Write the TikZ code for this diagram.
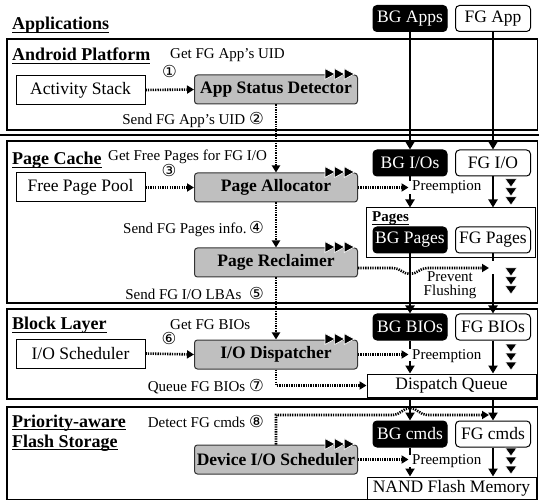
\documentclass[tikz,border=0pt]{standalone}
\usepackage{fontspec}
\setmainfont{Liberation Serif}
\newfontfamily\circfont{DejaVu Sans}
\usetikzlibrary{arrows.meta}
\newcommand\myul[1]{\setbox0=\hbox{#1}\rlap{\rule[-3.2pt]{\wd0}{1.3pt}}\box0}
\newcommand\cn[1]{{\circfont\fontsize{16.5}{17}\selectfont #1}}
\begin{document}
\begin{tikzpicture}[x=1pt,y=-1pt,
  sect/.style={draw=black,line width=1.2pt},
  title/.style={anchor=base west,font=\bfseries\fontsize{18}{20}\selectfont,inner sep=0pt},
  lbl/.style={font=\fontsize{15}{17}\selectfont,inner sep=0pt},
  wbox/.style={draw=black,line width=1pt,fill=white,font=\fontsize{17.5}{20}\selectfont,inner sep=0pt,minimum width=129pt,minimum height=29pt},
  gbox/.style={draw=black!80,fill=black!25,rounded corners=3pt,line width=1pt,font=\bfseries\fontsize{17.5}{20}\selectfont,inner sep=0pt,minimum width=163pt,minimum height=29pt},
  bgbox/.style={draw=black,fill=black,text=white,rounded corners=4pt,line width=1pt,font=\fontsize{17.5}{20}\selectfont,inner sep=0pt,minimum width=74pt,minimum height=26pt},
  fgbox/.style={draw=black,fill=white,rounded corners=4pt,line width=1pt,font=\fontsize{17.5}{20}\selectfont,inner sep=0pt,minimum width=75pt,minimum height=26pt},
  pbox/.style={draw=black,line width=1pt,fill=white,font=\fontsize{17.5}{20}\selectfont,inner sep=0pt,minimum width=169pt},
  solidarr/.style={line width=2.2pt,-{Triangle[length=8pt,width=9pt]}},
  dotarr/.style={line width=2.6pt,dash pattern=on 1.3pt off 1.1pt,-{Triangle[length=7pt,width=8pt]}},
  ffwd/.pic={\foreach \i in {0,9.6,19.2}{\filldraw[fill=black,draw=white,line width=0.7pt] (\i,-5.5) -- (\i+10,0) -- (\i,5.5) -- cycle;}},
  dstack/.pic={\foreach \j in {0,9,18}{\filldraw[fill=black,draw=white,line width=0.5pt] (-5.8,\j) -- (5.8,\j) -- (0,\j+8) -- cycle;}}
]
\useasboundingbox (0,0) rectangle (539,500);

% layer frames
\draw[sect] (7,39) rectangle (537.5,130);
\draw[line width=2.4pt] (0,135) -- (539,135);
\draw[sect] (7,141) rectangle (537.5,303);
\draw[sect] (7,309) rectangle (537.5,399);
\draw[sect] (7,407) rectangle (537.5,499.4);

% titles
\node[title] (tapp) at (12,30) {\myul{Applications}};
\node[title] (tand) at (12,61) {\myul{Android Platform}};
\node[title] (tpc) at (12,165) {\myul{Page Cache}};
\node[title] (tbl) at (12,330) {\myul{Block Layer}};
\node[title] (tpa) at (12,427) {\myul{Priority-aware}};
\node[title] (tfs) at (12,447) {\myul{Flash Storage}};

% left column boxes
\node[wbox] (as) at (80.5,90) {Activity Stack};
\node[wbox] (fpp) at (80.5,187.5) {Free Page Pool};
\node[wbox] (ios) at (80.5,353.5) {I/O Scheduler};

% gray boxes
\node[gbox] (asd) at (276,89.5) {App Status Detector};
\node[gbox] (pa) at (276,187.5) {Page Allocator};
\node[gbox] (pr) at (276,262.5) {Page Reclaimer};
\node[gbox] (iod) at (276,354.5) {I/O Dispatcher};
\node[gbox] (dios) at (276,459.5) {Device I/O Scheduler};
\pic at (325,74) {ffwd};
\pic at (325,172) {ffwd};
\pic at (325,247) {ffwd};
\pic at (325,339) {ffwd};
\pic at (325,444) {ffwd};

% step labels
\node[lbl,anchor=base west] (l1) at (170,59) {Get FG App’s UID};
\node[lbl] (c1) at (169.5,71) {\cn{①}};
\node[lbl,anchor=base east] (l2) at (264,125) {Send FG App’s UID \cn{②}};
\node[lbl,anchor=base west] (l3) at (108,160.5) {Get Free Pages for FG I/O};
\node[lbl] (c3) at (169,170) {\cn{③}};
\node[lbl,anchor=base east] (l4) at (264,234) {Send FG Pages info.\,\cn{④}};
\node[lbl,anchor=base east] (l5) at (264,299) {Send FG I/O LBAs \ \cn{⑤}};
\node[lbl,anchor=base west] (l6) at (170,330) {Get FG BIOs};
\node[lbl] (c6) at (169,338) {\cn{⑥}};
\node[lbl,anchor=base east] (l7) at (264,391) {Queue FG BIOs \cn{⑦}};
\node[lbl,anchor=base east] (l8) at (264,427) {Detect FG cmds \cn{⑧}};

% right column
\node[bgbox] (bgapps) at (410,18.5) {BG Apps};
\node[fgbox] (fgapp) at (493,18.5) {FG App};
\node[bgbox] (bgio) at (410,163) {BG I/Os};
\node[fgbox] (fgio) at (493,163) {FG I/O};
\node[pbox,minimum height=50pt] (pages) at (451,233) {};
\node[lbl,anchor=base west,font=\bfseries\fontsize{15}{17}\selectfont] (pgl) at (372,222) {\myul{Pages}};
\node[bgbox] (bgpg) at (410,240) {BG Pages};
\node[fgbox] (fgpg) at (493,240) {FG Pages};
\node[bgbox] (bgbio) at (410,327) {BG BIOs};
\node[fgbox] (fgbio) at (493,327) {FG BIOs};
\node[pbox,minimum height=23pt] (dq) at (451.5,385.5) {Dispatch Queue};
\node[bgbox] (bgcmd) at (410,434) {BG cmds};
\node[fgbox] (fgcmd) at (493,434) {FG cmds};
\node[pbox,minimum height=22pt] (nand) at (451.5,488) {NAND Flash Memory};

% solid data-path arrows
\draw[solidarr] (bgapps.south) -- (bgio.north);
\draw[solidarr] (fgapp.south) -- (fgio.north);
\draw[solidarr] (bgio.south) -- (bgio.south |- pages.north);
\draw[solidarr] (fgio.south) -- (fgio.south |- pages.north);
\draw[solidarr] (bgpg.south) -- (bgbio.north);
\draw[solidarr] (fgpg.south) -- (fgbio.north);
\draw[solidarr] (bgbio.south) -- (bgbio.south |- dq.north);
\draw[solidarr] (fgbio.south) -- (fgbio.south |- dq.north);
\draw[solidarr] (bgbio.south |- dq.south) -- (bgcmd.north);
\draw[solidarr] (fgbio.south |- dq.south) -- (fgcmd.north);
\draw[solidarr] (bgcmd.south) -- (bgcmd.south |- nand.north);
\draw[solidarr] (fgcmd.south) -- (fgcmd.south |- nand.north);

% blocked gaps
\fill[white] (408.5,181.5) rectangle (411.5,194);
\fill[white] (491.5,261) rectangle (494.5,274);
\fill[white] (408.5,349) rectangle (411.5,361);
\fill[white] (408.5,455) rectangle (411.5,467);

% stacked down triangles
\pic at (511,179) {dstack};
\pic at (511,268) {dstack};
\pic at (511,344) {dstack};
\pic at (511,448) {dstack};

% preemption labels
\node[lbl,anchor=west] (pe1) at (412,187.5) {Preemption};
\node[lbl,anchor=west] (pe2) at (412,356) {Preemption};
\node[lbl,anchor=west] (pe3) at (412,461) {Preemption};
\node[lbl,align=center] (pf) at (450,285) {Prevent\\[-3pt]Flushing};

% control-path dotted arrows
\draw[dotarr] (as.east) -- (asd.west);
\draw[dotarr] (fpp.east) -- (pa.west);
\draw[dotarr] (ios.east) -- (iod.west);
\draw[dotarr] (asd.south) -- (pa.north);
\draw[dotarr] (pa.south) -- (pr.north);
\draw[dotarr] (pr.south) -- (iod.north);
\draw[dotarr] (iod.south) |- (dq.west);
\draw[dotarr,shorten >=1.5pt] (pa.east) -- (pa.east -| bgio.center);
\draw[dotarr,shorten >=1.5pt] (iod.east) -- (iod.east -| bgio.center);
\draw[dotarr,shorten >=1.5pt] (dios.east) -- (dios.east -| bgio.center);
\coordinate (pfend) at (489,268);
\draw[dotarr] ([yshift=-5.5pt]pr.east) -- (393,268) .. controls (400,268) and (403,274) .. (410,274) .. controls (417,274) and (420,268) .. (427,268) -- (pfend);
\coordinate (dtend) at (489,415);
\draw[dotarr] (dios.north) -- (276,415) -- (393,415) .. controls (400,415) and (403,408) .. (410,408) .. controls (417,408) and (420,415) .. (427,415) -- (dtend);
\end{tikzpicture}
\end{document}
